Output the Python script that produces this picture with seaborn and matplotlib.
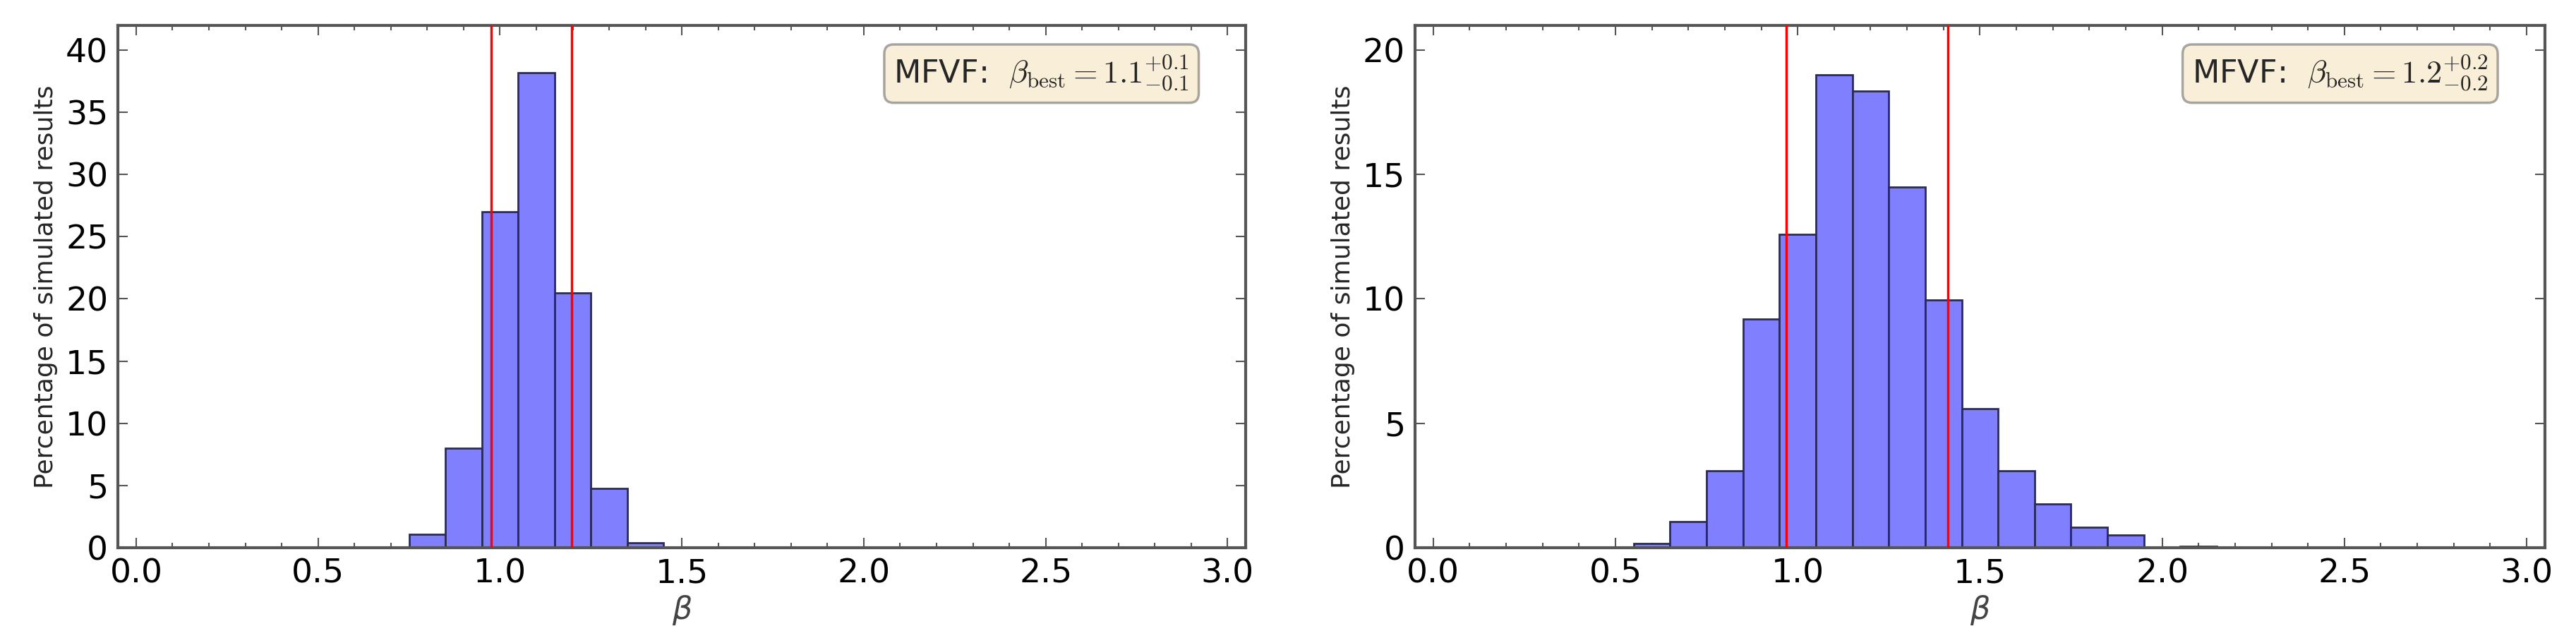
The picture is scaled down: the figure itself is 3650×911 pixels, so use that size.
import matplotlib
matplotlib.use("Agg")
import matplotlib.pyplot as plt
from matplotlib.ticker import MultipleLocator
import seaborn as sns
import numpy as np

# ===============================
# Data (% per bin of width 0.1)
# ===============================
bin_edges = [0.05 + 0.1 * i for i in range(30)]

left_centers = [0.7, 0.8, 0.9, 1.0, 1.1, 1.2, 1.3, 1.4]
left_heights = [0.05, 1.1, 8.0, 27.0, 38.2, 20.5, 4.8, 0.4]
left_bounds = [0.975, 1.198]
left_label = r"MFVF:  $\beta_{\rm best}=1.1^{+0.1}_{-0.1}$"

right_centers = [0.5, 0.6, 0.7, 0.8, 0.9, 1.0, 1.1, 1.2, 1.3, 1.4,
                 1.5, 1.6, 1.7, 1.8, 1.9, 2.1, 2.2]
right_heights = [0.04, 0.18, 1.05, 3.1, 9.2, 12.6, 19.0, 18.35, 14.5, 9.95,
                 5.6, 3.1, 1.75, 0.83, 0.52, 0.06, 0.02]
right_bounds = [0.968, 1.412]
right_label = r"MFVF:  $\beta_{\rm best}=1.2^{+0.2}_{-0.2}$"

panels = [
    (left_centers, left_heights, left_bounds, left_label, 42),
    (right_centers, right_heights, right_bounds, right_label, 21),
]

# ===============================
# Style
# ===============================
sns.set_style("white")
plt.rcParams["font.family"] = ["DejaVu Sans"]
plt.rcParams["mathtext.fontset"] = "dejavusans"

fig = plt.figure(figsize=(36.5, 9.11), dpi=100)
axes_pos = [[0.0458, 0.148, 0.4378, 0.813],
            [0.5493, 0.148, 0.4386, 0.813]]

for pos, (centers, heights, bounds, label, ytop) in zip(axes_pos, panels):
    ax = fig.add_axes(pos)
    sns.histplot(x=centers, weights=heights, bins=bin_edges, ax=ax,
                 stat="count", facecolor="#8080ff", edgecolor="#2a2a5c",
                 linewidth=2.0, alpha=1.0)
    for b in bounds:
        ax.axvline(b, color="red", linewidth=2.5, zorder=5)

    ax.set_xlim(-0.05, 3.05)
    ax.set_ylim(0, ytop)
    ax.xaxis.set_major_locator(MultipleLocator(0.5))
    ax.xaxis.set_minor_locator(MultipleLocator(0.1))
    ax.yaxis.set_major_locator(MultipleLocator(5))
    ax.tick_params(which="both", direction="in", top=True, right=True,
                   bottom=True, left=True, colors="#555555")
    ax.tick_params(which="major", length=10, width=1.5, labelsize=34,
                   labelcolor="black", pad=10)
    ax.tick_params(which="minor", length=5, width=1.5)
    for sp in ax.spines.values():
        sp.set_color("#555555")
        sp.set_linewidth(3)

    ax.set_ylabel("Percentage of simulated results", fontsize=26, labelpad=8)
    ax.set_xlabel(r"$\beta$", fontsize=32, color="#444444", labelpad=4)

    ax.text(0.95, 0.945, label, transform=ax.transAxes, ha="right", va="top",
            fontsize=32, math_fontfamily="cm", zorder=10,
            bbox=dict(boxstyle="round", facecolor="wheat", alpha=0.5,
                      edgecolor="#555555", linewidth=2.5))

fig.savefig("out.png", dpi=100)
